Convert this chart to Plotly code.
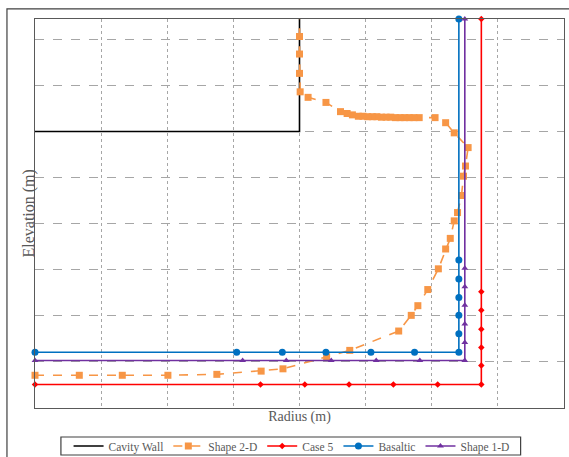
import plotly.graph_objects as go

# Cavity wall outline
wall_r = [0, 4, 4]
wall_z = [6, 6, 8.44]

# Shape 2-D solidification front
shape2d_r = [0, 0.67, 1.32, 2.01, 2.75, 3.42, 3.75, 4.41, 4.76, 5.50, 5.69, 5.79, 5.94,
             6.10, 6.21, 6.28, 6.34, 6.39, 6.45, 6.48, 6.51, 6.55, 6.34, 6.21, 6.05,
             5.81, 5.73, 5.66, 5.59, 5.52, 5.45, 5.38, 5.31, 5.24, 5.17, 5.10, 5.03,
             4.96, 4.89, 4.80, 4.72, 4.62, 4.40, 4.13, 4.01, 4.0, 4.0, 4.0, 4.0]
shape2d_z = [0.71, 0.71, 0.71, 0.71, 0.73, 0.80, 0.85, 1.11, 1.25, 1.67, 2.01, 2.22, 2.57,
             3.02, 3.45, 3.68, 4.06, 4.24, 4.61, 5.03, 5.25, 5.65, 5.97, 6.19, 6.30,
             6.30, 6.30, 6.30, 6.30, 6.30, 6.30, 6.31, 6.31, 6.31, 6.32, 6.32, 6.32,
             6.33, 6.33, 6.36, 6.39, 6.43, 6.63, 6.74, 6.86, 7.26, 7.68, 8.06, 8.45]

# Case 5
case5_r = [0, 3.41, 4.08, 4.75, 5.42, 6.09, 6.75, 6.75, 6.75, 6.75, 6.75, 6.75, 6.75]
case5_z = [0.51, 0.51, 0.51, 0.51, 0.51, 0.51, 0.51, 0.92, 1.31, 1.71, 2.12, 2.52, 8.44]

# Basaltic
basaltic_r = [0, 3.05, 3.74, 4.40, 5.08, 5.74, 6.41, 6.41, 6.41, 6.41, 6.41, 6.41, 6.41]
basaltic_z = [1.21, 1.21, 1.21, 1.21, 1.21, 1.21, 1.21, 1.61, 2.01, 2.40, 2.80, 3.21, 8.44]

# Shape 1-D
shape1d_r = [0, 3.14, 3.80, 4.48, 5.16, 5.82, 6.50, 6.50, 6.50, 6.50, 6.50, 6.50, 6.50]
shape1d_z = [1.03, 1.03, 1.03, 1.03, 1.03, 1.03, 1.03, 1.42, 1.82, 2.23, 2.63, 3.03, 8.44]

FONT = "Liberation Serif, Times New Roman, DejaVu Serif, serif"
TXT = "#595959"

fig = go.Figure()
fig.add_trace(go.Scatter(x=wall_r, y=wall_z, mode="lines", name="Cavity Wall",
                         line=dict(color="#000000", width=1.6), cliponaxis=False))
fig.add_trace(go.Scatter(x=shape2d_r, y=shape2d_z, mode="lines+markers", name="Shape 2-D",
                         line=dict(color="#F79646", width=1.6, dash="dash"),
                         marker=dict(symbol="square", size=7, color="#F79646"),
                         cliponaxis=False))
fig.add_trace(go.Scatter(x=case5_r, y=case5_z, mode="lines+markers", name="Case 5",
                         line=dict(color="#FF0000", width=1.6),
                         marker=dict(symbol="diamond", size=5, color="#FF0000"),
                         cliponaxis=False))
fig.add_trace(go.Scatter(x=basaltic_r, y=basaltic_z, mode="lines+markers", name="Basaltic",
                         line=dict(color="#0070C0", width=1.6),
                         marker=dict(symbol="circle", size=7, color="#0070C0"),
                         cliponaxis=False))
fig.add_trace(go.Scatter(x=shape1d_r, y=shape1d_z, mode="lines+markers", name="Shape 1-D",
                         line=dict(color="#7030A0", width=1.6),
                         marker=dict(symbol="triangle-up", size=6, color="#7030A0"),
                         cliponaxis=False))

# Outer frame of the figure
fig.add_shape(type="rect", xref="paper", yref="paper",
              x0=-0.053, x1=1.2, y0=-0.3, y1=1.026,
              line=dict(color="#404040", width=1.2), layer="below")
# Legend box
fig.add_shape(type="rect", xref="paper", yref="paper",
              x0=0.049, x1=0.918, y0=-0.1208, y1=-0.0746,
              line=dict(color="#404040", width=1.2), layer="below")

# Vertical axis title
fig.add_annotation(text="Elevation (m)", xref="paper", yref="paper",
                   x=-0.0132, y=0.5, xanchor="center", yanchor="middle",
                   textangle=-90, showarrow=False,
                   font=dict(family=FONT, size=16, color=TXT))

fig.update_layout(
    width=569, height=457,
    margin=dict(l=35, r=5, t=19, b=49),
    paper_bgcolor="white", plot_bgcolor="white",
    font=dict(family=FONT, size=13, color=TXT),
    showlegend=True,
    legend=dict(orientation="h", xref="paper", x=0.485, xanchor="center",
                yref="container", y=0.024, yanchor="middle",
                borderwidth=0, bgcolor="rgba(0,0,0,0)",
                font=dict(family=FONT, size=11.5, color=TXT),
                tracegroupgap=0),
    xaxis=dict(range=[0, 8], dtick=1, showticklabels=False, ticks="",
               showgrid=True, gridcolor="#A6A6A6", griddash="dot", gridwidth=1,
               showline=True, linecolor="#595959", linewidth=1.2, mirror=True,
               zeroline=False,
               title=dict(text="Radius (m)", standoff=3,
                          font=dict(family=FONT, size=14, color=TXT))),
    yaxis=dict(range=[0, 8.44], dtick=1, showticklabels=False, ticks="",
               showgrid=True, gridcolor="#A6A6A6", griddash="dash", gridwidth=1,
               showline=True, linecolor="#595959", linewidth=1.2, mirror=True,
               zeroline=False),
)

fig.write_html("out.html")
